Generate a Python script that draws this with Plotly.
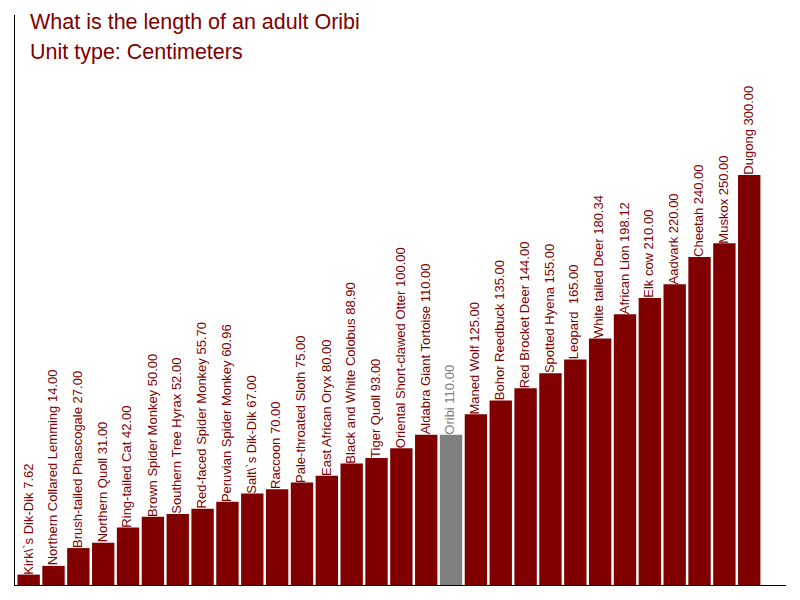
import plotly.graph_objects as go

animals = ["Kirk\\`s Dik-Dik", "Northern Collared Lemming", "Brush-tailed Phascogale",
           "Northern Quoll", "Ring-tailed Cat", "Brown Spider Monkey", "Southern Tree Hyrax",
           "Red-faced Spider Monkey", "Peruvian Spider Monkey", "Salt\\`s Dik-Dik", "Raccoon",
           "Pale-throated Sloth", "East African Oryx", "Black and White Colobus", "Tiger Quoll",
           "Oriental Short-clawed Otter", "Aldabra Giant Tortoise", "Oribi", "Maned Wolf",
           "Bohor Reedbuck", "Red Brocket Deer", "Spotted Hyena", "Leopard ", "White tailed Deer",
           "African Lion", "Elk cow", "Aadvark", "Cheetah", "Muskox", "Dugong"]
lengths = [7.62, 14.00, 27.00, 31.00, 42.00, 50.00, 52.00, 55.70, 60.96, 67.00, 70.00,
           75.00, 80.00, 88.90, 93.00, 100.00, 110.00, 110.00, 125.00, 135.00, 144.00,
           155.00, 165.00, 180.34, 198.12, 210.00, 220.00, 240.00, 250.00, 300.00]
highlight = "Oribi"
title_lines = ["What is the length of an adult Oribi", "Unit type: Centimeters"]

RED = "#800000"
GRAY = "#808080"
colors = [GRAY if a == highlight else RED for a in animals]

# page body margin (~8px) offsets the figure inside the 800x600 window
W, H = 784, 584
ML, MR, MT, MB = 7, 6, 7, 7
PW, PH = W - ML - MR, H - MT - MB

fig = go.Figure(go.Bar(x=animals, y=lengths, marker_color=colors, marker_line_width=0,
                       hoverinfo="x+y"))

annotations = []
for a, v, c in zip(animals, lengths, colors):
    annotations.append(dict(x=a, y=v, xref="x", yref="y", text=f"{a} {v:.2f}",
                            textangle=-90, showarrow=False, xanchor="center",
                            yanchor="bottom", xshift=-1, yshift=-2,
                            font=dict(family="Liberation Sans, Arial", size=13, color=c)))
for i, t in enumerate(title_lines):
    ypx = 14 + 30 * i
    annotations.append(dict(x=(20 - ML) / PW, y=(H - MB - ypx) / PH, xref="paper", yref="paper",
                            text=t, showarrow=False, xanchor="left", yanchor="middle",
                            font=dict(family="Liberation Sans, Arial", size=21.5, color=RED)))

fig.update_layout(
    width=W, height=H,
    margin=dict(l=ML, r=MR, t=MT, b=MB),
    paper_bgcolor="white", plot_bgcolor="white",
    bargap=0.1, showlegend=False,
    annotations=annotations,
    xaxis=dict(range=[-0.55, 30.48], showline=True, linecolor="black", linewidth=1,
               showticklabels=False, ticks="", showgrid=False, zeroline=False),
    yaxis=dict(range=[0, 417], showline=True, linecolor="black", linewidth=1,
               showticklabels=False, ticks="", showgrid=False, zeroline=False),
)

fig.write_html("out.html")
